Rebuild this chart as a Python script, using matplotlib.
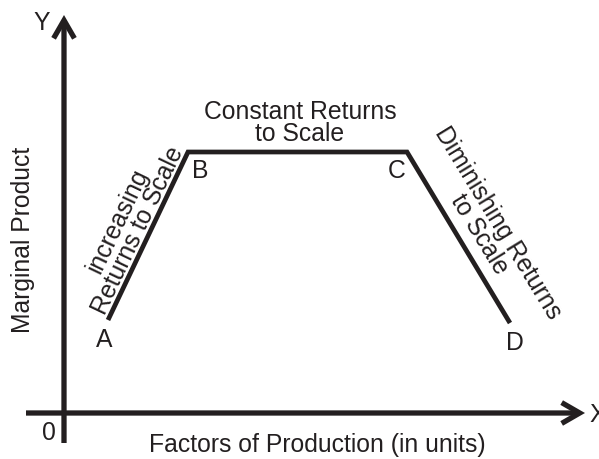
import matplotlib
matplotlib.use("Agg")
import matplotlib.pyplot as plt

# Data (x = factors of production, y = marginal product), arbitrary units
point_labels = ["A", "B", "C", "D"]
x_vals = [44, 124, 343, 446]
y_vals = [93, 261, 261, 90]

stage_labels = ["increasing\nReturns to Scale", "Constant Returns\nto Scale", "Diminishing Returns\nto Scale"]
x_label = "Factors of Production (in units)"
y_label = "Marginal Product"

INK = "#231f20"
FONT = "Liberation Sans"
FS = 17.8

fig = plt.figure(figsize=(5.99, 4.59), dpi=100)
ax = fig.add_axes([0, 0, 1, 1])
ax.set_xlim(-64, 535)
ax.set_ylim(-46, 413)
ax.axis("off")

# axes with arrows
arrow = dict(arrowstyle="->,head_length=1.3,head_width=0.75", lw=3.8, color=INK,
             shrinkA=0, shrinkB=0, capstyle="butt", joinstyle="miter")
ax.annotate("", xy=(521, 0), xytext=(-38, 0), arrowprops=arrow)
ax.annotate("", xy=(0, 398), xytext=(0, -30), arrowprops=arrow)

# curve
ax.plot(x_vals, y_vals, color=INK, lw=3.4, solid_joinstyle="miter", solid_capstyle="butt")

# point labels
offsets = [(-4, -20), (12, -19), (-10, -19), (5, -20)]
for lab, x, y, (dx, dy) in zip(point_labels, x_vals, y_vals, offsets):
    ax.text(x + dx, y + dy, lab, ha="center", va="center", fontsize=FS, family=FONT, color=INK)

ax.text(-22, 390, "Y", ha="center", va="center", fontsize=FS, family=FONT, color=INK)
ax.text(534, -2, "X", ha="center", va="center", fontsize=FS, family=FONT, color=INK)
ax.text(-15, -20, "0", ha="center", va="center", fontsize=FS, family=FONT, color=INK)

ax.text(253, -32, x_label, ha="center", va="center", fontsize=FS, family=FONT, color=INK)
ax.text(-41, 173, y_label, ha="center", va="center", rotation=90, fontsize=FS, family=FONT, color=INK)

ax.text(236, 290, stage_labels[1], ha="center", va="center", fontsize=FS, family=FONT, color=INK,
        linespacing=0.9)
ax.text(64, 187, stage_labels[0], ha="center", va="center", rotation=64.5, fontsize=FS, family=FONT,
        color=INK, linespacing=0.9, rotation_mode="anchor")
ax.text(425, 184, stage_labels[2], ha="center", va="center", rotation=-58.5, fontsize=FS, family=FONT,
        color=INK, linespacing=0.9, rotation_mode="anchor")

fig.savefig("out.png", dpi=100, facecolor="white")
